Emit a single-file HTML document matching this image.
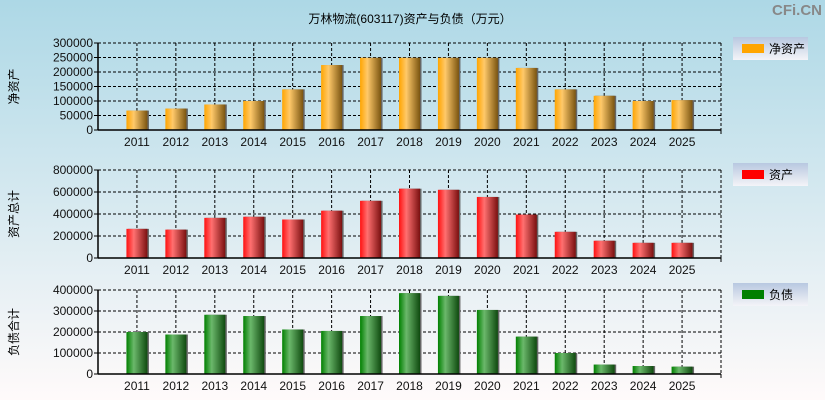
<!DOCTYPE html>
<html><head><meta charset="utf-8"><style>
html,body{margin:0;padding:0;}
body{width:825px;height:400px;overflow:hidden;font-family:"Liberation Sans","Noto Sans CJK SC",sans-serif;}
</style></head><body>
<svg id="chart" width="825" height="400" xmlns="http://www.w3.org/2000/svg" style="display:block">
<defs>
<linearGradient id="bg" x1="0" y1="0" x2="0" y2="1"><stop offset="0" stop-color="#add8e6"/><stop offset="1" stop-color="#fffafa"/></linearGradient>
<linearGradient id="g-orange" x1="0" y1="0" x2="1" y2="0"><stop offset="0" stop-color="#ffa500"/><stop offset="0.35" stop-color="#ffc96a"/><stop offset="1" stop-color="#7a5410"/></linearGradient>
<linearGradient id="g-red" x1="0" y1="0" x2="1" y2="0"><stop offset="0" stop-color="#ff1010"/><stop offset="0.35" stop-color="#ff7070"/><stop offset="1" stop-color="#7a1010"/></linearGradient>
<linearGradient id="g-green" x1="0" y1="0" x2="1" y2="0"><stop offset="0" stop-color="#008000"/><stop offset="0.35" stop-color="#6bb86b"/><stop offset="1" stop-color="#0f4a0f"/></linearGradient>
<linearGradient id="leg" x1="0" y1="0" x2="0" y2="1"><stop offset="0" stop-color="#b8c8e0"/><stop offset="1" stop-color="#f4f4f8"/></linearGradient>
</defs>
<rect x="0" y="0" width="825" height="400" fill="url(#bg)"/>
<text x="410" y="23" font-size="12" text-anchor="middle" fill="#000">万林物流(603117)资产与负债（万元）</text>
<text x="822" y="15" font-size="15" font-weight="bold" text-anchor="end" fill="#888">CFi.CN</text>
<g id="panels"></g>
</svg>
<script>
const years = ['2011','2012','2013','2014','2015','2016','2017','2018','2019','2020','2021','2022','2023','2024','2025'];
const netAssets = [67000,74000,88000,100000,140000,224000,249000,249000,249000,249000,214000,140000,118000,100000,103000];
const totalAssets = [265000,258000,365000,375000,350000,430000,520000,630000,620000,555000,395000,238000,157000,138000,138000];
const liabilities = [200000,188000,282000,276000,212000,205000,276000,385000,372000,305000,178000,100000,45000,38000,35000];
const netTicks = [0,50000,100000,150000,200000,250000,300000];
const assetTicks = [0,200000,400000,600000,800000];
const liabTicks = [0,100000,200000,300000,400000];

const NS='http://www.w3.org/2000/svg';
const root=document.getElementById('panels');
function mk(tag,attrs,parent){const e=document.createElementNS(NS,tag);for(const k in attrs)e.setAttribute(k,attrs[k]);(parent||root).appendChild(e);return e;}
const X0=98,X1=721,slot=(X1-X0)/16;
function xScale(i){return X0+slot*(i+1);}

const panels=[
 {name:'net-assets',vals:netAssets,ticks:netTicks,top:43,bot:130,fill:'url(#g-orange)',title:'净资产',leg:'净资产',legColor:'#ffa500',ly:37},
 {name:'total-assets',vals:totalAssets,ticks:assetTicks,top:170,bot:258,fill:'url(#g-red)',title:'资产总计',leg:'资产',legColor:'#ff0000',ly:163},
 {name:'liabilities',vals:liabilities,ticks:liabTicks,top:290,bot:374,fill:'url(#g-green)',title:'负债合计',leg:'负债',legColor:'#008000',ly:283}
];
panels.forEach(p=>{
 const g=mk('g',{});
 
 
 const max=p.ticks[p.ticks.length-1];
 const y=v=>p.bot-(v/max)*(p.bot-p.top);
 // grid horizontal
 p.ticks.forEach(t=>{
  if(t>0){const l=mk('line',{x1:X0,x2:X1,y1:y(t),y2:y(t),stroke:'#000','stroke-dasharray':'3,2','stroke-width':1},g);
   }
  const tx=mk('text',{x:X0-5,y:y(t)+4,'font-size':12,'text-anchor':'end',fill:'#111'},g);
  
  tx.textContent=t;
  mk('line',{x1:X0-4,x2:X0,y1:y(t),y2:y(t),stroke:'#000'},g);
 });
 years.forEach((yr,i)=>{
  const l=mk('line',{x1:xScale(i),x2:xScale(i),y1:p.top,y2:p.bot,stroke:'#000','stroke-dasharray':'3,2'},g);
  
 });
 mk('line',{x1:X1,x2:X1,y1:p.top,y2:p.bot,stroke:'#000','stroke-dasharray':'3,2'},g);
 p.vals.forEach((v,i)=>{
  const cx=xScale(i);
  mk('rect',{x:cx-10+1,y:y(v),width:21,height:p.bot-y(v),fill:'#666'},g);
  const r=mk('rect',{x:cx-10.5,y:y(v),width:21,height:p.bot-y(v),fill:p.fill},g);
  
  
  const tx=mk('text',{x:cx,y:p.bot+16,'font-size':12,'text-anchor':'middle',fill:'#111'},g);
  
  tx.textContent=years[i];
 });
 mk('line',{x1:X0,x2:X0,y1:p.top,y2:p.bot,stroke:'#000','stroke-width':1.5},g);
 mk('line',{x1:X0,x2:X1,y1:p.bot,y2:p.bot,stroke:'#000','stroke-width':1.5},g);
 mk('line',{x1:X1,x2:X1,y1:p.bot,y2:p.bot+4,stroke:'#000'},g);
 const ay=(p.top+p.bot)/2;
 const at=mk('text',{x:18,y:ay,'font-size':12,'text-anchor':'middle',fill:'#000',transform:'rotate(-90 18 '+ay+')'},g);
 
 at.textContent=p.title;
 const lg=mk('g',{},g);
 
 mk('rect',{x:733,y:p.ly,width:75,height:23,fill:'url(#leg)'},lg);
 mk('rect',{x:742,y:p.ly+7,width:22,height:9,fill:p.legColor},lg);
 const lt=mk('text',{x:769,y:p.ly+16,'font-size':12,fill:'#000'},lg);
 lt.textContent=p.leg;
});
</script>
</body></html>
